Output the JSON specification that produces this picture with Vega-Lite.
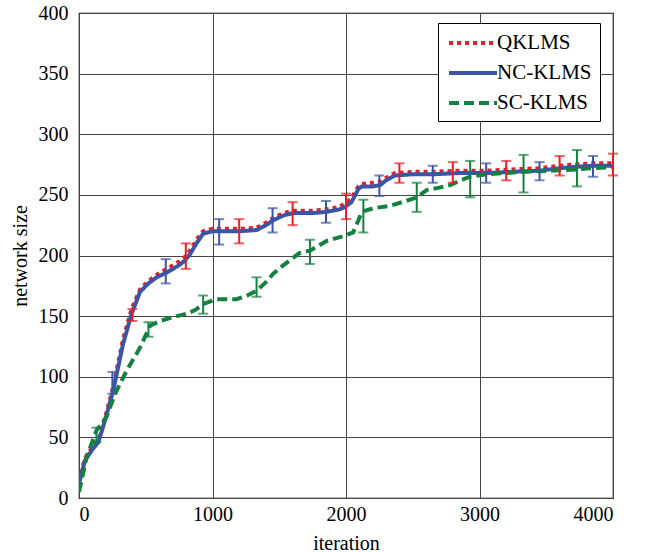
{
  "$schema": "https://vega.github.io/schema/vega-lite/v6.json",
  "width": 534,
  "height": 485,
  "autosize": {"type": "none"},
  "padding": {"left": 79, "top": 13, "right": 32, "bottom": 54},
  "background": "white",
  "config": {
    "font": "Liberation Serif",
    "view": {"stroke": "black", "strokeWidth": 1.2},
    "axis": {
      "domain": false,
      "ticks": false,
      "grid": true,
      "gridColor": "#444",
      "gridWidth": 1,
      "gridOpacity": 1,
      "labelFont": "Liberation Serif",
      "labelFontSize": 20,
      "labelColor": "black",
      "titleFont": "Liberation Serif",
      "titleFontSize": 20,
      "titleFontWeight": "normal",
      "titleColor": "black"
    },
    "legend": {
      "labelFont": "Liberation Serif",
      "labelFontSize": 21,
      "labelColor": "black"
    }
  },
  "datasets": {
    "lines": [
      {"series": "QKLMS", "iteration": 0, "size": 14},
      {"series": "QKLMS", "iteration": 45, "size": 33},
      {"series": "QKLMS", "iteration": 100, "size": 42},
      {"series": "QKLMS", "iteration": 145, "size": 48},
      {"series": "QKLMS", "iteration": 195, "size": 66},
      {"series": "QKLMS", "iteration": 257, "size": 92},
      {"series": "QKLMS", "iteration": 330, "size": 131},
      {"series": "QKLMS", "iteration": 394, "size": 156},
      {"series": "QKLMS", "iteration": 457, "size": 172},
      {"series": "QKLMS", "iteration": 520, "size": 179},
      {"series": "QKLMS", "iteration": 582, "size": 184},
      {"series": "QKLMS", "iteration": 657, "size": 189},
      {"series": "QKLMS", "iteration": 750, "size": 195},
      {"series": "QKLMS", "iteration": 794, "size": 199},
      {"series": "QKLMS", "iteration": 831, "size": 204},
      {"series": "QKLMS", "iteration": 880, "size": 213},
      {"series": "QKLMS", "iteration": 930, "size": 220},
      {"series": "QKLMS", "iteration": 1000, "size": 222},
      {"series": "QKLMS", "iteration": 1100, "size": 222},
      {"series": "QKLMS", "iteration": 1200, "size": 222},
      {"series": "QKLMS", "iteration": 1331, "size": 223},
      {"series": "QKLMS", "iteration": 1400, "size": 227},
      {"series": "QKLMS", "iteration": 1454, "size": 231},
      {"series": "QKLMS", "iteration": 1530, "size": 235},
      {"series": "QKLMS", "iteration": 1605, "size": 237},
      {"series": "QKLMS", "iteration": 1750, "size": 237},
      {"series": "QKLMS", "iteration": 1855, "size": 238},
      {"series": "QKLMS", "iteration": 1950, "size": 240},
      {"series": "QKLMS", "iteration": 1993, "size": 243},
      {"series": "QKLMS", "iteration": 2040, "size": 247},
      {"series": "QKLMS", "iteration": 2070, "size": 253},
      {"series": "QKLMS", "iteration": 2093, "size": 257},
      {"series": "QKLMS", "iteration": 2118, "size": 259},
      {"series": "QKLMS", "iteration": 2200, "size": 260},
      {"series": "QKLMS", "iteration": 2255, "size": 261},
      {"series": "QKLMS", "iteration": 2300, "size": 264},
      {"series": "QKLMS", "iteration": 2367, "size": 268},
      {"series": "QKLMS", "iteration": 2500, "size": 269},
      {"series": "QKLMS", "iteration": 2654, "size": 269},
      {"series": "QKLMS", "iteration": 2850, "size": 270},
      {"series": "QKLMS", "iteration": 3054, "size": 270},
      {"series": "QKLMS", "iteration": 3250, "size": 271},
      {"series": "QKLMS", "iteration": 3453, "size": 272},
      {"series": "QKLMS", "iteration": 3600, "size": 274},
      {"series": "QKLMS", "iteration": 3704, "size": 275},
      {"series": "QKLMS", "iteration": 3850, "size": 276},
      {"series": "QKLMS", "iteration": 4000, "size": 276},

      {"series": "NC-KLMS", "iteration": 0, "size": 12},
      {"series": "NC-KLMS", "iteration": 45, "size": 31},
      {"series": "NC-KLMS", "iteration": 100, "size": 40},
      {"series": "NC-KLMS", "iteration": 145, "size": 46},
      {"series": "NC-KLMS", "iteration": 195, "size": 64},
      {"series": "NC-KLMS", "iteration": 257, "size": 89},
      {"series": "NC-KLMS", "iteration": 330, "size": 127},
      {"series": "NC-KLMS", "iteration": 394, "size": 152},
      {"series": "NC-KLMS", "iteration": 457, "size": 170},
      {"series": "NC-KLMS", "iteration": 520, "size": 177},
      {"series": "NC-KLMS", "iteration": 582, "size": 182},
      {"series": "NC-KLMS", "iteration": 657, "size": 186},
      {"series": "NC-KLMS", "iteration": 750, "size": 192},
      {"series": "NC-KLMS", "iteration": 794, "size": 196},
      {"series": "NC-KLMS", "iteration": 831, "size": 201},
      {"series": "NC-KLMS", "iteration": 880, "size": 210},
      {"series": "NC-KLMS", "iteration": 930, "size": 218},
      {"series": "NC-KLMS", "iteration": 1000, "size": 220},
      {"series": "NC-KLMS", "iteration": 1100, "size": 220},
      {"series": "NC-KLMS", "iteration": 1200, "size": 220},
      {"series": "NC-KLMS", "iteration": 1331, "size": 221},
      {"series": "NC-KLMS", "iteration": 1400, "size": 225},
      {"series": "NC-KLMS", "iteration": 1454, "size": 229},
      {"series": "NC-KLMS", "iteration": 1530, "size": 233},
      {"series": "NC-KLMS", "iteration": 1605, "size": 235},
      {"series": "NC-KLMS", "iteration": 1750, "size": 235},
      {"series": "NC-KLMS", "iteration": 1855, "size": 236},
      {"series": "NC-KLMS", "iteration": 1950, "size": 238},
      {"series": "NC-KLMS", "iteration": 1993, "size": 240},
      {"series": "NC-KLMS", "iteration": 2040, "size": 244},
      {"series": "NC-KLMS", "iteration": 2070, "size": 250},
      {"series": "NC-KLMS", "iteration": 2093, "size": 255},
      {"series": "NC-KLMS", "iteration": 2118, "size": 257},
      {"series": "NC-KLMS", "iteration": 2200, "size": 257},
      {"series": "NC-KLMS", "iteration": 2255, "size": 258},
      {"series": "NC-KLMS", "iteration": 2300, "size": 262},
      {"series": "NC-KLMS", "iteration": 2367, "size": 266},
      {"series": "NC-KLMS", "iteration": 2500, "size": 267},
      {"series": "NC-KLMS", "iteration": 2654, "size": 267},
      {"series": "NC-KLMS", "iteration": 2850, "size": 268},
      {"series": "NC-KLMS", "iteration": 3054, "size": 268},
      {"series": "NC-KLMS", "iteration": 3250, "size": 269},
      {"series": "NC-KLMS", "iteration": 3453, "size": 270},
      {"series": "NC-KLMS", "iteration": 3600, "size": 272},
      {"series": "NC-KLMS", "iteration": 3704, "size": 273},
      {"series": "NC-KLMS", "iteration": 3850, "size": 274},
      {"series": "NC-KLMS", "iteration": 4000, "size": 274},

      {"series": "SC-KLMS", "iteration": 0, "size": 5},
      {"series": "SC-KLMS", "iteration": 58, "size": 34},
      {"series": "SC-KLMS", "iteration": 132, "size": 56},
      {"series": "SC-KLMS", "iteration": 207, "size": 67},
      {"series": "SC-KLMS", "iteration": 270, "size": 86},
      {"series": "SC-KLMS", "iteration": 357, "size": 105},
      {"series": "SC-KLMS", "iteration": 457, "size": 124},
      {"series": "SC-KLMS", "iteration": 532, "size": 142},
      {"series": "SC-KLMS", "iteration": 607, "size": 146},
      {"series": "SC-KLMS", "iteration": 700, "size": 149},
      {"series": "SC-KLMS", "iteration": 806, "size": 152},
      {"series": "SC-KLMS", "iteration": 870, "size": 155},
      {"series": "SC-KLMS", "iteration": 930, "size": 160},
      {"series": "SC-KLMS", "iteration": 1031, "size": 164},
      {"series": "SC-KLMS", "iteration": 1181, "size": 164},
      {"series": "SC-KLMS", "iteration": 1260, "size": 167},
      {"series": "SC-KLMS", "iteration": 1331, "size": 171},
      {"series": "SC-KLMS", "iteration": 1400, "size": 178},
      {"series": "SC-KLMS", "iteration": 1455, "size": 185},
      {"series": "SC-KLMS", "iteration": 1520, "size": 191},
      {"series": "SC-KLMS", "iteration": 1580, "size": 196},
      {"series": "SC-KLMS", "iteration": 1650, "size": 202},
      {"series": "SC-KLMS", "iteration": 1730, "size": 204},
      {"series": "SC-KLMS", "iteration": 1855, "size": 212},
      {"series": "SC-KLMS", "iteration": 1980, "size": 216},
      {"series": "SC-KLMS", "iteration": 2054, "size": 219},
      {"series": "SC-KLMS", "iteration": 2093, "size": 229},
      {"series": "SC-KLMS", "iteration": 2118, "size": 236},
      {"series": "SC-KLMS", "iteration": 2206, "size": 239},
      {"series": "SC-KLMS", "iteration": 2330, "size": 241},
      {"series": "SC-KLMS", "iteration": 2450, "size": 245},
      {"series": "SC-KLMS", "iteration": 2530, "size": 248},
      {"series": "SC-KLMS", "iteration": 2604, "size": 254},
      {"series": "SC-KLMS", "iteration": 2700, "size": 256},
      {"series": "SC-KLMS", "iteration": 2779, "size": 258},
      {"series": "SC-KLMS", "iteration": 2860, "size": 262},
      {"series": "SC-KLMS", "iteration": 2929, "size": 265},
      {"series": "SC-KLMS", "iteration": 3054, "size": 267},
      {"series": "SC-KLMS", "iteration": 3200, "size": 268},
      {"series": "SC-KLMS", "iteration": 3329, "size": 269},
      {"series": "SC-KLMS", "iteration": 3554, "size": 270},
      {"series": "SC-KLMS", "iteration": 3729, "size": 271},
      {"series": "SC-KLMS", "iteration": 3850, "size": 272},
      {"series": "SC-KLMS", "iteration": 4000, "size": 273}
    ],
    "bars": [
      {"series": "QKLMS", "iteration": 400, "lo": 146, "hi": 156},
      {"series": "QKLMS", "iteration": 800, "lo": 189, "hi": 210},
      {"series": "QKLMS", "iteration": 1200, "lo": 210, "hi": 230},
      {"series": "QKLMS", "iteration": 1600, "lo": 225, "hi": 244},
      {"series": "QKLMS", "iteration": 2000, "lo": 230, "hi": 251},
      {"series": "QKLMS", "iteration": 2400, "lo": 260, "hi": 276},
      {"series": "QKLMS", "iteration": 2800, "lo": 260, "hi": 277},
      {"series": "QKLMS", "iteration": 3200, "lo": 262, "hi": 278},
      {"series": "QKLMS", "iteration": 3600, "lo": 266, "hi": 282},
      {"series": "QKLMS", "iteration": 4000, "lo": 266, "hi": 284},
      {"series": "NC-KLMS", "iteration": 250, "lo": 86, "hi": 104},
      {"series": "NC-KLMS", "iteration": 650, "lo": 177, "hi": 197},
      {"series": "NC-KLMS", "iteration": 1050, "lo": 209, "hi": 230},
      {"series": "NC-KLMS", "iteration": 1450, "lo": 219, "hi": 239},
      {"series": "NC-KLMS", "iteration": 1850, "lo": 227, "hi": 245},
      {"series": "NC-KLMS", "iteration": 2250, "lo": 249, "hi": 266},
      {"series": "NC-KLMS", "iteration": 2650, "lo": 260, "hi": 274},
      {"series": "NC-KLMS", "iteration": 3050, "lo": 260, "hi": 276},
      {"series": "NC-KLMS", "iteration": 3450, "lo": 262, "hi": 277},
      {"series": "NC-KLMS", "iteration": 3850, "lo": 265, "hi": 282},
      {"series": "SC-KLMS", "iteration": 130, "lo": 46, "hi": 58},
      {"series": "SC-KLMS", "iteration": 520, "lo": 133, "hi": 145},
      {"series": "SC-KLMS", "iteration": 930, "lo": 152, "hi": 167},
      {"series": "SC-KLMS", "iteration": 1330, "lo": 166, "hi": 182},
      {"series": "SC-KLMS", "iteration": 1730, "lo": 193, "hi": 213},
      {"series": "SC-KLMS", "iteration": 2130, "lo": 219, "hi": 246},
      {"series": "SC-KLMS", "iteration": 2530, "lo": 236, "hi": 260},
      {"series": "SC-KLMS", "iteration": 2930, "lo": 248, "hi": 278},
      {"series": "SC-KLMS", "iteration": 3330, "lo": 252, "hi": 283},
      {"series": "SC-KLMS", "iteration": 3730, "lo": 257, "hi": 287}
    ]
  },
  "encoding": {
    "x": {
      "type": "quantitative",
      "scale": {"domain": [0, 4000], "nice": false},
      "axis": {"values": [0, 1000, 2000, 3000, 4000], "format": "d", "title": "iteration", "labelPadding": 6, "titlePadding": 9, "labelFont": "Liberation Serif", "labelFontSize": 20}
    }
  },
  "layer": [
    {
      "data": {"name": "lines"},
      "mark": {"type": "line", "strokeWidth": 4, "clip": true},
      "encoding": {
        "x": {"field": "iteration", "type": "quantitative"},
        "y": {
          "field": "size",
          "type": "quantitative",
          "scale": {"domain": [0, 400], "nice": false},
          "axis": {"values": [0, 50, 100, 150, 200, 250, 300, 350, 400], "title": "network size", "labelPadding": 11, "titlePadding": 8, "labelFont": "Liberation Serif", "labelFontSize": 20}
        },
        "color": {
          "field": "series",
          "type": "nominal",
          "scale": {"domain": ["QKLMS", "NC-KLMS", "SC-KLMS"], "range": ["#ec1c24", "#3b54a5", "#14813e"]},
          "legend": {
            "title": null,
            "orient": "none",
            "legendX": 359,
            "legendY": 10,
            "strokeColor": "black",
            "fillColor": "white",
            "padding": 8,
            "symbolType": "M-2.4,0H2.4",
            "symbolSize": 400,
            "symbolStrokeWidth": 4,
            "symbolOffset": 15,
            "rowPadding": 8,
            "labelOffset": 12,
            "labelFont": "Liberation Serif",
            "labelFontSize": 21
          }
        },
        "strokeDash": {
          "field": "series",
          "type": "nominal",
          "scale": {"domain": ["QKLMS", "NC-KLMS", "SC-KLMS"], "range": [[4, 4], [1, 0], [10, 5]]},
          "legend": {"title": null}
        },
        "order": {"field": "iteration", "type": "quantitative"}
      }
    },
    {
      "data": {"name": "bars"},
      "mark": {"type": "rule", "strokeWidth": 2},
      "encoding": {
        "x": {"field": "iteration", "type": "quantitative"},
        "y": {"field": "lo", "type": "quantitative"},
        "y2": {"field": "hi"},
        "color": {"field": "series", "type": "nominal", "legend": null}
      }
    },
    {
      "data": {"name": "bars"},
      "mark": {"type": "tick", "orient": "horizontal", "size": 10, "thickness": 2},
      "encoding": {
        "x": {"field": "iteration", "type": "quantitative"},
        "y": {"field": "lo", "type": "quantitative"},
        "color": {"field": "series", "type": "nominal", "legend": null}
      }
    },
    {
      "data": {"name": "bars"},
      "mark": {"type": "tick", "orient": "horizontal", "size": 10, "thickness": 2},
      "encoding": {
        "x": {"field": "iteration", "type": "quantitative"},
        "y": {"field": "hi", "type": "quantitative"},
        "color": {"field": "series", "type": "nominal", "legend": null}
      }
    }
  ]
}
